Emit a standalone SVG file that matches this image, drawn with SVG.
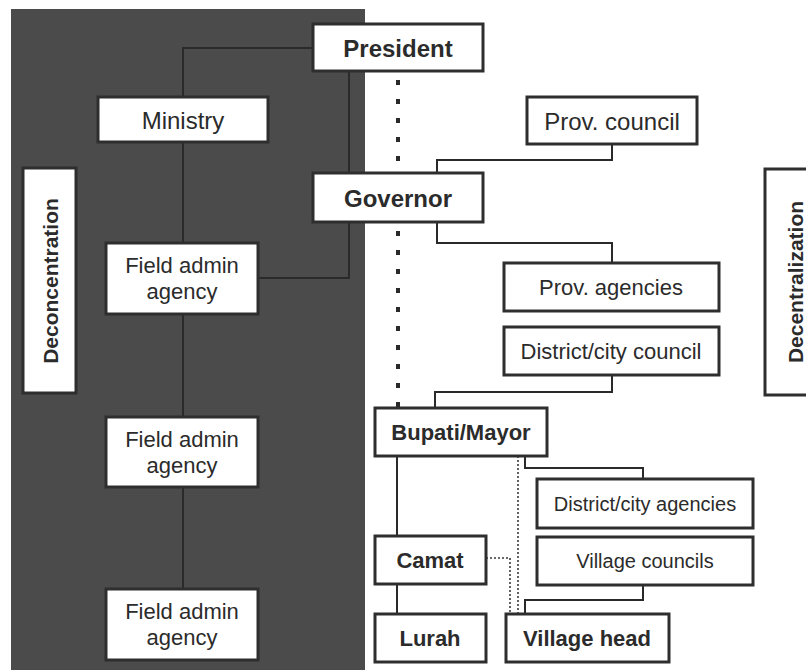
<svg xmlns="http://www.w3.org/2000/svg" width="806" height="670" viewBox="0 0 806 670">
<style>
  .box { fill: #ffffff; stroke: #2e2e2e; stroke-width: 3; }
  .t { font-family: "Liberation Sans", Arial, sans-serif; fill: #2b2b2b; text-anchor: middle; dominant-baseline: central; }
  .b { font-weight: bold; font-size: 22px; }
  .b24 { font-weight: bold; font-size: 24px; }
  .r24 { font-size: 24px; }
  .r { font-size: 22px; }
  .s { font-size: 20px; }
  .line { fill: none; stroke: #2a2a2a; stroke-width: 2; }
  .dots { fill: none; stroke: #2a2a2a; stroke-width: 4; stroke-dasharray: 5 14; }
  .fine { fill: none; stroke: #3a3a3a; stroke-width: 1.6; stroke-dasharray: 2 2; }
</style>
<rect width="806" height="670" fill="#ffffff"/>
<rect id="deconcentration-panel" x="11" y="9" width="354" height="661" fill="#4b4b4b"/>

<g id="connectors">
  <path class="line" d="M313 48 H183 V97"/>
  <path class="line" d="M183 142 V243"/>
  <path class="line" d="M349 71 V278 H258"/>
  <path class="line" d="M183 314 V417"/>
  <path class="line" d="M183 487 V589"/>
  <path class="line" d="M612 144 V160 H437 V173"/>
  <path class="line" d="M437 222 V243 H612 V263"/>
  <path class="line" d="M612 375 V392 H435 V408"/>
  <path class="line" d="M397 456 V536"/>
  <path class="line" d="M397 584 V614"/>
  <path class="line" d="M525 456 V468 H643 V479"/>
  <path class="line" d="M643 585 V600 H525 V614"/>
  <path class="dots" d="M398 80 V173"/>
  <path class="dots" d="M398 231 V408"/>
  <path class="fine" d="M518 456 V614"/>
  <path class="fine" d="M486 558 H510 V614"/>
</g>

<g id="deconcentration">
  <rect class="box" x="23" y="168" width="53" height="225"/>
  <text class="t" style="font-size:21px;font-weight:bold" transform="translate(50 281) rotate(-90)">Deconcentration</text>
</g>
<g id="decentralization">
  <rect class="box" x="765" y="169" width="60" height="226"/>
  <text class="t" style="font-size:21px;font-weight:bold" transform="translate(795 282) rotate(-90)">Decentralization</text>
</g>

<g id="president">
  <rect class="box" x="313" y="24" width="170" height="47"/>
  <text class="t b24" x="398" y="48">President</text>
</g>
<g id="ministry">
  <rect class="box" x="98" y="97" width="170" height="45"/>
  <text class="t r24" x="183" y="120">Ministry</text>
</g>
<g id="field-admin-1">
  <rect class="box" x="106" y="243" width="152" height="71"/>
  <text class="t r" x="182" y="265">Field admin</text>
  <text class="t r" x="182" y="291">agency</text>
</g>
<g id="field-admin-2">
  <rect class="box" x="106" y="417" width="152" height="70"/>
  <text class="t r" x="182" y="439">Field admin</text>
  <text class="t r" x="182" y="465">agency</text>
</g>
<g id="field-admin-3">
  <rect class="box" x="106" y="589" width="152" height="71"/>
  <text class="t r" x="182" y="611">Field admin</text>
  <text class="t r" x="182" y="637">agency</text>
</g>
<g id="governor">
  <rect class="box" x="313" y="173" width="170" height="49"/>
  <text class="t b24" x="398" y="198">Governor</text>
</g>
<g id="prov-council">
  <rect class="box" x="527" y="97" width="170" height="47"/>
  <text class="t r24" x="612" y="121">Prov. council</text>
</g>
<g id="prov-agencies">
  <rect class="box" x="504" y="263" width="215" height="48"/>
  <text class="t r" x="611" y="287">Prov. agencies</text>
</g>
<g id="district-city-council">
  <rect class="box" x="504" y="327" width="215" height="48"/>
  <text class="t r" x="611" y="351">District/city council</text>
</g>
<g id="bupati-mayor">
  <rect class="box" x="375" y="408" width="172" height="48"/>
  <text class="t b" x="461" y="432">Bupati/Mayor</text>
</g>
<g id="district-city-agencies">
  <rect class="box" x="537" y="479" width="216" height="49"/>
  <text class="t s" x="645" y="504">District/city agencies</text>
</g>
<g id="village-councils">
  <rect class="box" x="537" y="537" width="216" height="48"/>
  <text class="t s" x="645" y="561">Village councils</text>
</g>
<g id="camat">
  <rect class="box" x="375" y="536" width="111" height="48"/>
  <text class="t b" x="430" y="560">Camat</text>
</g>
<g id="lurah">
  <rect class="box" x="375" y="614" width="111" height="48"/>
  <text class="t b" x="430" y="638">Lurah</text>
</g>
<g id="village-head">
  <rect class="box" x="506" y="614" width="163" height="48"/>
  <text class="t b" x="587" y="638">Village head</text>
</g>
</svg>
